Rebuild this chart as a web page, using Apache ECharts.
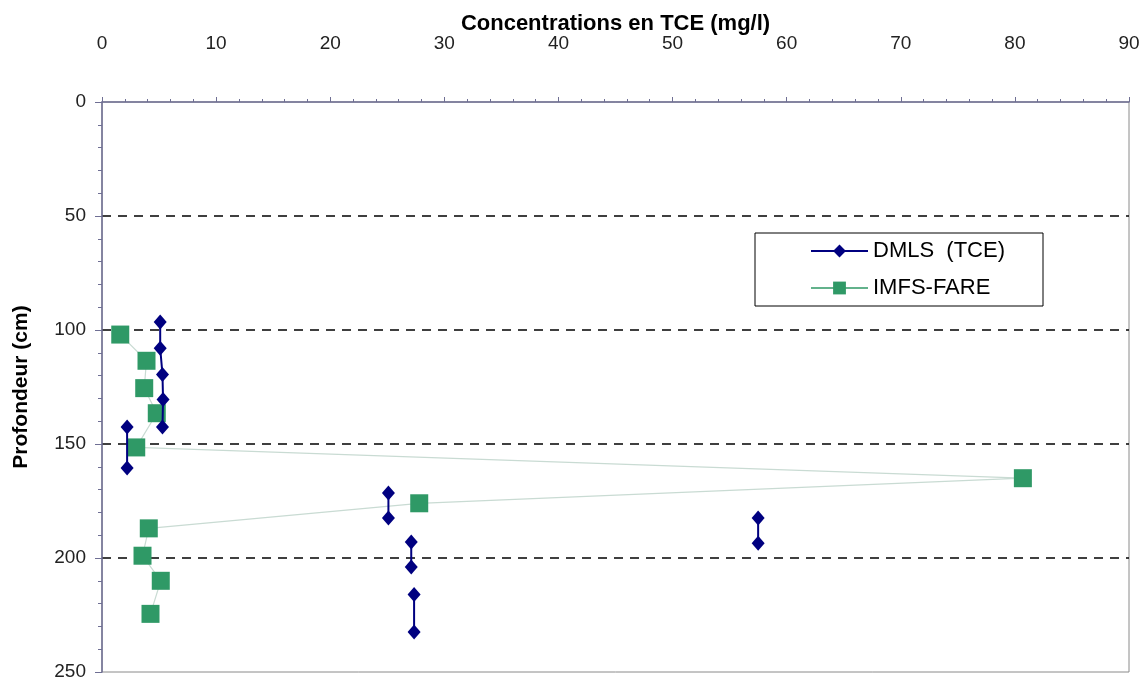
<!DOCTYPE html>
<html>
<head>
<meta charset="utf-8">
<script src="https://cdn.jsdelivr.net/npm/echarts@6/dist/echarts.min.js"></script>
<style>html,body{margin:0;padding:0;background:#fff}#c{width:1146px;height:678px}</style>
</head>
<body>
<div id="c"></div>
<script>
// DMLS (TCE): null separates unconnected segments
const dmlsConc  = [5.1, 5.1, 5.3, 5.35, 5.3, null, 2.2, 2.2, null, 25.1, 25.1, null, 57.5, 57.5, null, 27.1, 27.1, null, 27.35, 27.35];
const dmlsDepth = [96.5, 108, 119.5, 130.5, 142.5, null, 142.5, 160.5, null, 171.5, 182.5, null, 182.5, 193.5, null, 193, 204, null, 216, 232.5];
// IMFS-FARE
const imfsConc  = [1.6, 3.9, 3.7, 4.8, 3.0, 80.7, 27.8, 4.1, 3.55, 5.15, 4.25];
const imfsDepth = [102, 113.5, 125.5, 136.5, 151.5, 165, 176, 187, 199, 210, 224.5];
const seriesNames = ['DMLS  (TCE)', 'IMFS-FARE'];
const xTitle = 'Concentrations en TCE (mg/l)';
const yTitle = 'Profondeur (cm)';

const dmlsData = dmlsConc.map((c, i) => c === null ? '-' : [c, dmlsDepth[i]]);
const imfsData = imfsConc.map((c, i) => [c, imfsDepth[i]]);

const font = 'Liberation Sans, Arial, sans-serif';
const axisCol = '#6f6f94';
const chart = echarts.init(document.getElementById('c'), null, {renderer: 'canvas'});
chart.setOption({
  animation: false,
  backgroundColor: '#fff',
  grid: {left: 102, right: 17, top: 102, bottom: 6, show: true, borderColor: '#8a8a8a', borderWidth: 1,
         containLabel: false, outerBoundsMode: 'none'},
  legend: {
    orient: 'vertical', left: 755, top: 233,
    borderColor: '#000', borderWidth: 1,
    padding: [7, 38, 7, 55],
    itemWidth: 57, itemHeight: 16, itemGap: 15,
    textStyle: {fontFamily: font, fontSize: 22, color: '#000'},
    data: [
      {name: seriesNames[0]},
      {name: seriesNames[1], lineStyle: {color: '#2f9966', width: 1.5}}
    ]
  },
  xAxis: {
    type: 'value', position: 'top', min: 0, max: 90, interval: 10,
    name: xTitle, nameLocation: 'middle', nameGap: 78, nameMoveOverlap: false,
    nameTextStyle: {fontFamily: font, fontSize: 22, fontWeight: 'bold', color: '#000', verticalAlign: 'middle'},
    axisLine: {show: true, onZero: false, lineStyle: {color: axisCol, width: 1.5}},
    axisTick: {show: true, length: 5, lineStyle: {color: axisCol}},
    minorTick: {show: true, splitNumber: 5, length: 3, lineStyle: {color: axisCol}},
    axisLabel: {margin: 49, fontFamily: font, fontSize: 19, color: '#222'},
    splitLine: {show: false}
  },
  yAxis: {
    type: 'value', inverse: true, min: 0, max: 250, interval: 50,
    name: yTitle, nameLocation: 'middle', nameGap: 70,
    nameTextStyle: {fontFamily: font, fontSize: 21, fontWeight: 'bold', color: '#000'},
    axisLine: {show: true, onZero: false, lineStyle: {color: axisCol, width: 1.5}},
    axisTick: {show: true, length: 7, lineStyle: {color: axisCol}},
    minorTick: {show: true, splitNumber: 5, length: 4, lineStyle: {color: axisCol}},
    axisLabel: {margin: 16, fontFamily: font, fontSize: 19, color: '#222'},
    splitLine: {show: true, showMinLine: false, showMaxLine: false,
                lineStyle: {color: '#000', type: [9, 7], width: 1.5}}
  },
  series: [
    {
      name: seriesNames[0], type: 'line', data: dmlsData, connectNulls: false,
      symbol: 'diamond', symbolSize: [13, 15], z: 3,
      itemStyle: {color: '#000080'},
      lineStyle: {color: '#000080', width: 2}
    },
    {
      name: seriesNames[1], type: 'line', data: imfsData,
      symbol: 'rect', symbolSize: 18, z: 2,
      itemStyle: {color: '#2f9966'},
      lineStyle: {color: '#c9dbd3', width: 1.2}
    }
  ]
});
</script>
</body>
</html>
